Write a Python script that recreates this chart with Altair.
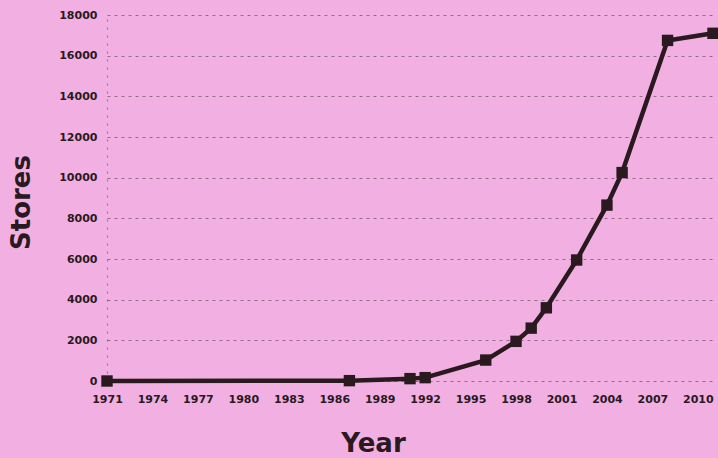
import altair as alt
import pandas as pd

years = [1971, 1987, 1991, 1992, 1996, 1998, 1999, 2000, 2002, 2004, 2005, 2008, 2011]
stores = [0, 17, 116, 165, 1030, 1950, 2600, 3600, 5950, 8650, 10250, 16750, 17100]
x_ticks = [1971, 1974, 1977, 1980, 1983, 1986, 1989, 1992, 1995, 1998, 2001, 2004, 2007, 2010]
y_ticks = [0, 2000, 4000, 6000, 8000, 10000, 12000, 14000, 16000, 18000]

df = pd.DataFrame({"Year": years, "Stores": stores})

ink = "#2a1a1f"
font = "DejaVu Sans"

x = alt.X(
    "Year:Q",
    scale=alt.Scale(domain=[1971, 2011], nice=False, zero=False),
    axis=alt.Axis(
        values=x_ticks, format="d", grid=False, ticks=False, domain=False,
        labelPadding=12, labelFont=font, labelFontWeight="bold", labelFontSize=11,
        labelColor=ink, labelFlush=False,
        title="Year", titleFont=font, titleFontSize=26, titleFontWeight="bold",
        titleColor=ink, titleX=266, titleY=62, titleBaseline="middle", titleAnchor="start",
        titleAlign="center",
    ),
)
y = alt.Y(
    "Stores:Q",
    scale=alt.Scale(domain=[0, 18000], nice=False),
    axis=alt.Axis(
        values=y_ticks, format="d", grid=True, gridColor="#3a2a30", gridDash=[3, 4],
        gridOpacity=0.5, gridWidth=1.2, ticks=False,
        domain=True, domainColor="#3a2a30", domainDash=[2, 6], domainOpacity=0.5,
        labelPadding=10, labelFont=font, labelFontWeight="bold", labelFontSize=11,
        labelColor=ink,
        title="Stores", titleFont=font, titleFontSize=26, titleFontWeight="bold",
        titleColor=ink, titleX=-86, titleY=187, titleBaseline="middle", titleAngle=-90,
        titleAlign="center",
    ),
)

line = alt.Chart(df).mark_line(color=ink, strokeWidth=4.5).encode(x=x, y=y)
pts = alt.Chart(df).mark_point(shape="square", filled=True, size=130, color=ink, opacity=1).encode(x=x, y=y)

chart = (line + pts).properties(
    width=606, height=366,
    background="#F2B0E2",
    padding={"left": 107, "top": 15, "right": 5, "bottom": 77},
    autosize=alt.AutoSizeParams(type="none"),
).configure_view(stroke=None)

chart.save("out.html", embed_options={"renderer": "svg", "actions": False})
